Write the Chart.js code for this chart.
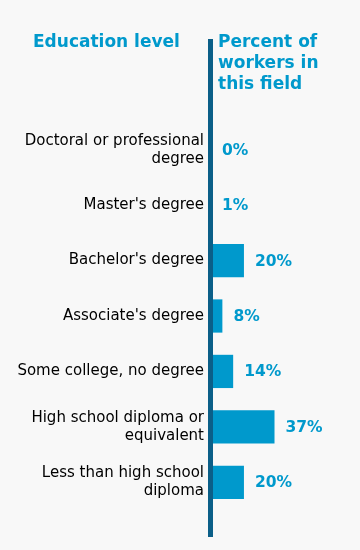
<!DOCTYPE html>
<html>
<head>
<meta charset="utf-8">
<script src="https://cdn.jsdelivr.net/npm/chart.js@4/dist/chart.umd.min.js"></script>
<style>
  body { margin: 0; background: #f8f8f8; }
  canvas { display: block; }
</style>
</head>
<body>
<canvas id="chart" width="360" height="550"></canvas>
<script>
const educationLevels = [
    ['Doctoral or professional', 'degree'],
    "Master's degree",
    "Bachelor's degree",
    "Associate's degree",
    'Some college, no degree',
    ['High school diploma or', 'equivalent'],
    ['Less than high school', 'diploma']
];
const percentOfWorkers = [0, 1, 20, 8, 14, 37, 20];
const leftHeader = 'Education level';
const rightHeader = ['Percent of', 'workers in', 'this field'];

const blue = '#0099cc';
const darkBlue = '#0b5f88';

const ctx = document.getElementById('chart');

new Chart(ctx, {
    type: 'bar',
    data: {
        labels: educationLevels,
        datasets: [{
            data: percentOfWorkers,
            backgroundColor: blue,
            barPercentage: 0.6,
            categoryPercentage: 1
        }]
    },
    options: {
        indexAxis: 'y',
        responsive: false,
        animation: false,
        layout: {
            padding: {top: 122, bottom: 40, left: 0, right: 1}
        },
        plugins: {
            legend: {display: false},
            tooltip: {enabled: false}
        },
        scales: {
            x: {
                display: false,
                min: 0,
                max: 84
            },
            y: {
                grid: {display: false, drawTicks: false},
                border: {display: false},
                ticks: {
                    color: '#000',
                    padding: 4,
                    font: {family: 'DejaVu Sans', size: 15}
                },
                afterFit: scale => {
                    scale.width = 208;
                }
            }
        }
    },
    plugins: [{
        afterDraw: chart => {
            var c = chart.ctx;
            var area = chart.chartArea;

            // vertical axis line, drawn over the start of the bars
            c.save();
            c.fillStyle = darkBlue;
            c.fillRect(area.left, 39, 5, 498);

            // headers
            c.fillStyle = blue;
            c.font = 'bold 17px "DejaVu Sans"';
            c.textAlign = 'left';
            c.textBaseline = 'alphabetic';
            c.fillText(leftHeader, 33, 47);
            rightHeader.forEach((line, i) => {
                c.fillText(line, area.left + 10, 47 + i * 21);
            });

            // value labels
            c.font = 'bold 15.5px "DejaVu Sans"';
            c.textBaseline = 'middle';
            chart.getDatasetMeta(0).data.forEach((bar, i) => {
                var x = Math.max(bar.x + 11, area.left + 14);
                c.fillText(percentOfWorkers[i] + '%', x, bar.y + 1);
            });
            c.restore();
        }
    }]
});
</script>
</body>
</html>
